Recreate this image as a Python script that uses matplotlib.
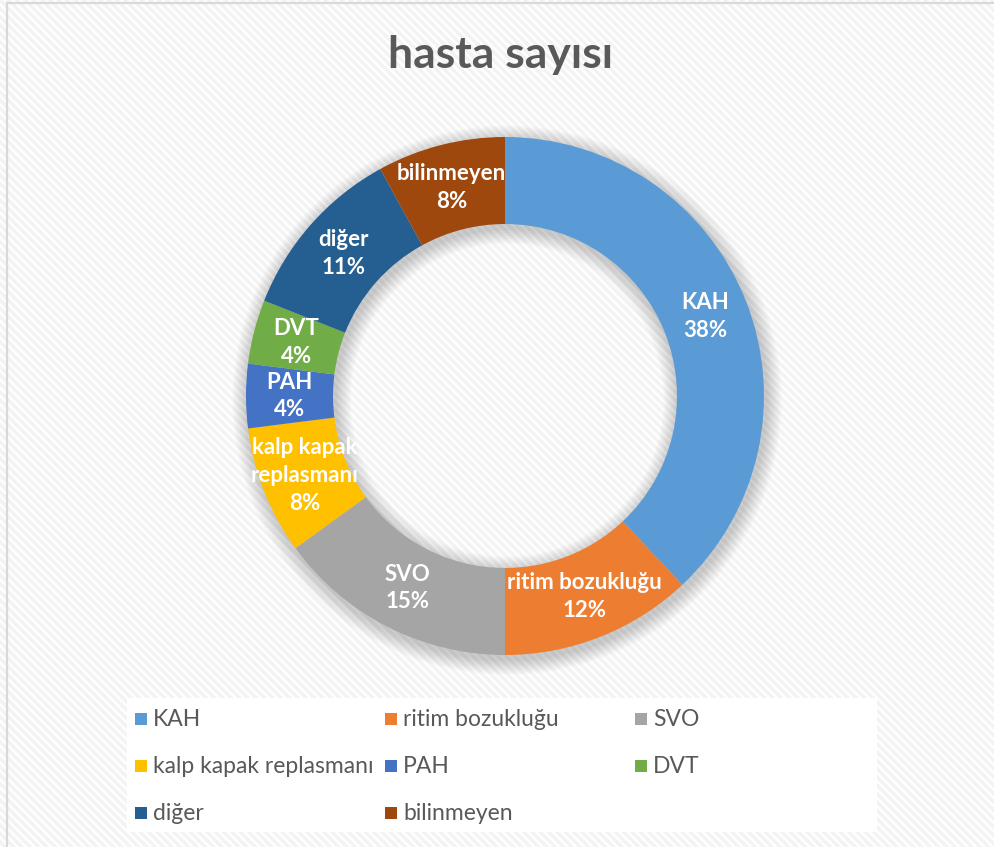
import matplotlib
matplotlib.use('Agg')
import matplotlib.pyplot as plt
from matplotlib.patches import Rectangle, Wedge
from matplotlib.lines import Line2D
import numpy as np

plt.rcParams['font.family'] = ['Lato', 'DejaVu Sans']
plt.rcParams['hatch.linewidth'] = 2.5

# data
categories = ['KAH', 'ritim bozukluğu', 'SVO', 'kalp kapak replasmanı',
              'PAH', 'DVT', 'diğer', 'bilinmeyen']
values = [38, 12, 15, 8, 4, 4, 11, 8]
slice_labels = ['KAH', 'ritim bozukluğu', 'SVO', 'kalp kapak\nreplasmanı',
                'PAH', 'DVT', 'diğer', 'bilinmeyen']
colors = ['#5B9BD5', '#ED7D31', '#A5A5A5', '#FFC000',
          '#4472C4', '#70AD47', '#255E91', '#9E480E']

W, H = 995, 847
fig = plt.figure(figsize=(W / 100, H / 100), dpi=100)

# striped background
bg = Rectangle((0, 0), 1, 1, transform=fig.transFigure, facecolor='white',
               edgecolor='#f3f3f3', hatch='\\\\\\\\', lw=0, zorder=-10)
fig.patches.append(bg)
# frame lines (left and top only visible)
fig.lines.append(Line2D([7.5 / W, 7.5 / W], [0, 1 - 3.5 / H], transform=fig.transFigure,
                        color='#d9d9d9', lw=1.6))
fig.lines.append(Line2D([7.5 / W, 1], [1 - 3.5 / H, 1 - 3.5 / H], transform=fig.transFigure,
                        color='#d9d9d9', lw=1.6))

# donut axes
cx, cy, R = 505, 396, 259
lim = 1.25
side = 2 * lim * R
ax = fig.add_axes([(cx - side / 2) / W, (H - cy - side / 2) / H, side / W, side / H])
ring = 0.336

# soft shadow
for k in range(10):
    d = 0.006 * (k + 1)
    sh = Wedge((0.008, -0.016), 1 + d, 0, 360, width=ring + 2 * d,
               facecolor='black', edgecolor='none', alpha=0.018)
    ax.add_patch(sh)

wedges, _ = ax.pie(values, colors=colors, startangle=90, counterclock=False,
                   radius=1, wedgeprops=dict(width=ring, edgecolor='none'))

total = sum(values)
mid_r = 1 - ring / 2
for w, lab, v in zip(wedges, slice_labels, values):
    ang = np.deg2rad((w.theta1 + w.theta2) / 2)
    ax.text(mid_r * np.cos(ang), mid_r * np.sin(ang), f'{lab}\n{v / total * 100:.0f}%',
            ha='center', va='center', color='white', fontsize=16, fontweight='bold',
            linespacing=1.4)

ax.set_xlim(-lim, lim)
ax.set_ylim(-lim, lim)
ax.set_aspect('equal')
ax.axis('off')

# title
fig.text(501 / W, 1 - 55 / H, 'hasta sayısı', ha='center', va='center',
         fontsize=32, fontweight='bold', color='#595959')

# legend box
lx0, ly0, lx1, ly1 = 127, 698, 877, 832
fig.patches.append(Rectangle((lx0 / W, 1 - ly1 / H), (lx1 - lx0) / W, (ly1 - ly0) / H,
                             transform=fig.transFigure, facecolor='white',
                             edgecolor='none', zorder=1))
for i, (name, c) in enumerate(zip(categories, colors)):
    col, row = i % 3, i // 3
    x = 135 + 250 * col
    y = 719 + 47 * row
    fig.patches.append(Rectangle((x / W, 1 - (y + 6) / H), 12 / W, 12 / H,
                                 transform=fig.transFigure, facecolor=c,
                                 edgecolor='none', zorder=2))
    fig.text((x + 18) / W, 1 - y / H, name, ha='left', va='center',
             fontsize=16.5, color='#595959', zorder=3)

fig.savefig('out.png', dpi=100)
